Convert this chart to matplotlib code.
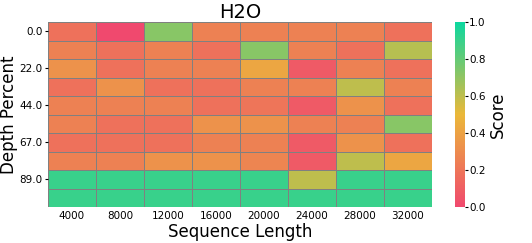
import numpy as np
import matplotlib
matplotlib.use("Agg")
import matplotlib.pyplot as plt
from matplotlib.colors import LinearSegmentedColormap

seq_lengths = [4000, 8000, 12000, 16000, 20000, 24000, 28000, 32000]
depth_labels = ["0.0", "22.0", "44.0", "67.0", "89.0"]

scores = np.array([
    [0.18, 0.00, 0.72, 0.25, 0.25, 0.25, 0.25, 0.18],
    [0.25, 0.18, 0.25, 0.18, 0.72, 0.25, 0.18, 0.62],
    [0.33, 0.18, 0.25, 0.25, 0.42, 0.08, 0.25, 0.18],
    [0.18, 0.33, 0.18, 0.18, 0.25, 0.25, 0.60, 0.25],
    [0.25, 0.25, 0.25, 0.18, 0.20, 0.08, 0.33, 0.18],
    [0.25, 0.18, 0.18, 0.33, 0.33, 0.25, 0.25, 0.72],
    [0.18, 0.18, 0.18, 0.25, 0.25, 0.08, 0.33, 0.18],
    [0.25, 0.25, 0.33, 0.33, 0.27, 0.08, 0.60, 0.42],
    [0.90, 0.90, 0.90, 0.90, 0.90, 0.60, 0.90, 0.90],
    [0.90, 0.90, 0.90, 0.90, 0.90, 0.90, 0.90, 0.90],
])

cmap = LinearSegmentedColormap.from_list("custom_cmap", ["#F0496E", "#EBB839", "#0CD79F"])

fig = plt.figure(figsize=(5.32, 2.43), dpi=100)
ax = fig.add_axes([0.090, 0.148, 0.722, 0.761])
cax = fig.add_axes([0.855, 0.148, 0.019, 0.761])

mesh = ax.pcolormesh(scores, cmap=cmap, vmin=0, vmax=1, edgecolors="grey", linewidth=0.5)
ax.set_xlim(0, scores.shape[1])
ax.set_ylim(scores.shape[0], 0)
ax.set_xticks(np.arange(len(seq_lengths)) + 0.5)
ax.set_xticklabels([str(s) for s in seq_lengths], fontsize=7.5)
ax.set_yticks(np.arange(0, scores.shape[0], 2) + 0.5)
ax.set_yticklabels(depth_labels, fontsize=7.5)
ax.tick_params(axis="x", length=0, pad=3)
ax.tick_params(axis="y", length=2, pad=2)
for s in ax.spines.values():
    s.set_visible(False)
ax.set_xlabel("Sequence Length", fontsize=12, labelpad=1)
ax.set_ylabel("Depth Percent", fontsize=12, labelpad=1)
ax.set_title("H2O", fontsize=14, pad=2)

cb = fig.colorbar(mesh, cax=cax)
cb.outline.set_visible(False)
cb.set_ticks([0, 0.2, 0.4, 0.6, 0.8, 1.0])
cb.ax.tick_params(labelsize=7.5, length=2, pad=1)
cb.set_label("Score", fontsize=12, labelpad=2)

fig.savefig("out.png", dpi=100)
